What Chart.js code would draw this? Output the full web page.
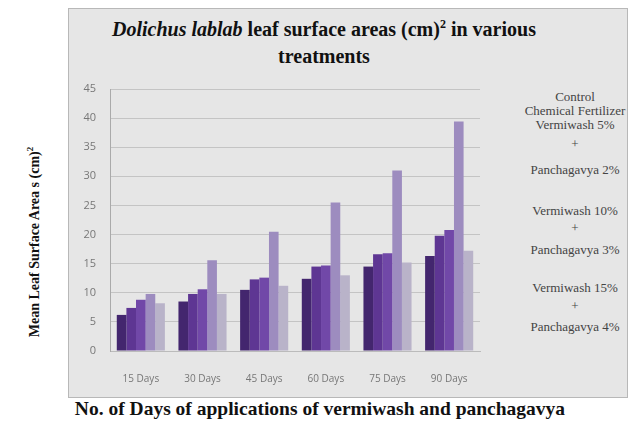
<!DOCTYPE html>
<html>
<head>
<meta charset="utf-8">
<script src="https://cdn.jsdelivr.net/npm/chart.js@4"></script>
<style>
    body { margin: 0; background: #fff; }
    #wrap { position: relative; width: 638px; height: 425px; overflow: hidden; }
    #box { position: absolute; left: 68px; top: 8px; width: 558px; height: 388px;
           background: #e6e6e6; border: 1px solid #b8b8b8; }
    canvas { position: absolute; left: 0; top: 0; }
    .serif { font-family: "Liberation Serif", "DejaVu Serif", serif; position: absolute; }
    #title { left: 54px; width: 540px; top: 11px; text-align: center; font-weight: bold;
             font-size: 20px; line-height: 27px; color: #111; }
    #xtitle { left: 0; width: 640px; top: 398px; text-align: center; font-weight: bold;
              font-size: 19.5px; color: #111; }
    #ytitle { left: 34px; top: 242px; transform: translate(-50%, -50%) rotate(-90deg);
              white-space: nowrap; font-weight: bold; font-size: 14px; color: #111; }
    .leg { left: 515px; width: 120px; text-align: center; font-size: 13px; color: #444;
           transform: translateY(-50%); white-space: nowrap; }
</style>
</head>
<body>
<div id="wrap">
    <div id="box"></div>
    <div id="title" class="serif"><i>Dolichus lablab</i> leaf surface areas (cm)<sup style="font-size:12px">2</sup> in various<br>treatments</div>
    <div id="ytitle" class="serif">Mean Leaf Surface Area s (cm)<sup style="font-size:9px">2</sup></div>
    <div id="xtitle" class="serif">No. of Days of applications of vermiwash and panchagavya</div>
    <div id="legend"></div>
    <canvas id="chart" width="638" height="425"></canvas>
</div>
<script>
const days = ['15 Days', '30 Days', '45 Days', '60 Days', '75 Days', '90 Days'];
const control = [6.2, 8.5, 10.5, 12.4, 14.5, 16.3];
const chemical = [7.4, 9.8, 12.3, 14.5, 16.6, 19.8];
const vw5pg2 = [8.8, 10.6, 12.6, 14.7, 16.8, 20.8];
const vw10pg3 = [9.8, 15.6, 20.5, 25.5, 31.0, 39.4];
const vw15pg4 = [8.2, 9.8, 11.2, 13.0, 15.2, 17.2];
const yTicks = [0, 5, 10, 15, 20, 25, 30, 35, 40, 45];

// legend text lines and their vertical centres
const legendLines = [
    ['Control', 97], ['Chemical Fertilizer', 111], ['Vermiwash 5%', 125], ['+', 144],
    ['Panchagavya 2%', 170], ['Vermiwash 10%', 211], ['+', 228], ['Panchagavya 3%', 250],
    ['Vermiwash 15%', 288], ['+', 306], ['Panchagavya 4%', 327]
];
const legendEl = document.getElementById('legend');
legendLines.forEach(([txt, y]) => {
    const d = document.createElement('div');
    d.className = 'serif leg';
    d.style.top = y + 'px';
    d.textContent = txt;
    legendEl.appendChild(d);
});

function series(label, data, color) {
    return { label, data, backgroundColor: color, borderWidth: 0 };
}

new Chart(document.getElementById('chart'), {
    type: 'bar',
    data: {
        labels: days,
        datasets: [
            series('Control', control, '#43266e'),
            series('Chemical Fertilizer', chemical, '#5e3693'),
            series('Vermiwash 5% + Panchagavya 2%', vw5pg2, '#7148a8'),
            series('Vermiwash 10% + Panchagavya 3%', vw10pg3, '#9d8cbf'),
            series('Vermiwash 15% + Panchagavya 4%', vw15pg4, '#b9b3c9')
        ]
    },
    options: {
        responsive: false,
        animation: false,
        layout: { padding: { left: 70, right: 158, top: 89, bottom: 34 } },
        plugins: { legend: { display: false }, tooltip: { enabled: false } },
        datasets: { bar: { categoryPercentage: 0.78, barPercentage: 1.0 } },
        scales: {
            x: {
                grid: { display: false, drawTicks: false },
                border: { display: true, color: '#bbb' },
                ticks: { color: '#777', font: { family: 'Open Sans', size: 10 }, padding: 22, maxRotation: 0 },
                afterFit: s => { s.height = 40; }
            },
            y: {
                min: 0, max: 45,
                afterBuildTicks: s => { s.ticks = yTicks.map(v => ({ value: v })); },
                grid: { color: '#c4c4c4', drawTicks: false },
                border: { display: true, color: '#aaa' },
                ticks: { color: '#777', font: { family: 'Open Sans', size: 11 }, padding: 14 },
                afterFit: s => { s.width = 40; }
            }
        }
    }
});
</script>
</body>
</html>
